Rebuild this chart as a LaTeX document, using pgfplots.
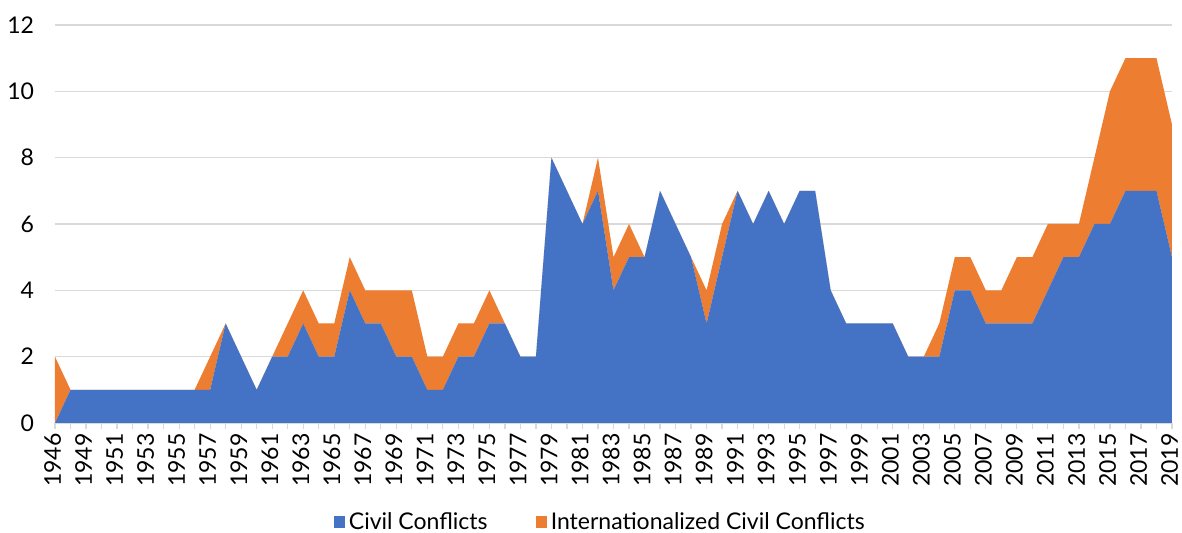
\documentclass[border=0pt]{standalone}
\usepackage{pgfplots}
\pgfplotsset{compat=1.18}
\usepackage{pgfplotstable}
\usepackage{fontspec}
\setmainfont{Lato}
\definecolor{cblue}{HTML}{4472C4}
\definecolor{corange}{HTML}{ED7D31}
\definecolor{cgrid}{HTML}{D9D9D9}
\pgfplotstableread{
x civil intl
0 0 2
1 1 0
2 1 0
3 1 0
4 1 0
5 1 0
6 1 0
7 1 0
8 1 0
9 1 0
10 1 1
11 3 0
12 2 0
13 1 0
14 2 0
15 2 1
16 3 1
17 2 1
18 2 1
19 4 1
20 3 1
21 3 1
22 2 2
23 2 2
24 1 1
25 1 1
26 2 1
27 2 1
28 3 1
29 3 0
30 2 0
31 2 0
32 8 0
33 7 0
34 6 0
35 7 1
36 4 1
37 5 1
38 5 0
39 7 0
40 6 0
41 5 0
42 3 1
43 5 1
44 7 0
45 6 0
46 7 0
47 6 0
48 7 0
49 7 0
50 4 0
51 3 0
52 3 0
53 3 0
54 3 0
55 2 0
56 2 0
57 2 1
58 4 1
59 4 1
60 3 1
61 3 1
62 3 2
63 3 2
64 4 2
65 5 1
66 5 1
67 6 2
68 6 4
69 7 4
70 7 4
71 7 4
72 5 4
}\datatable
\begin{document}
\begin{tikzpicture}
\useasboundingbox (-27.5pt,-55pt) rectangle (563.5pt,211.5pt);
\begin{axis}[
  at={(0,0)}, anchor=south west,
  scale only axis,
  width=558.5pt, height=199pt,
  xmin=0, xmax=72, ymin=0, ymax=12,
  stack plots=y,
  axis x line*=bottom,
  axis y line*=left,
  y axis line style={draw=none},
  x axis line style={draw=cgrid, line width=0.75pt},
  ytick={0,2,...,12},
  ymajorgrids,
  grid style={draw=cgrid, line width=0.75pt},
  ytick style={draw=none},
  xtick={0,1,...,72},
  xticklabels={1946,,1949,,1951,,1953,,1955,,1957,,1959,,1961,,1963,,1965,,1967,,1969,,1971,,1973,,1975,,1977,,1979,,1981,,1983,,1985,,1987,,1989,,1991,,1993,,1995,,1997,,1999,,2001,,2003,,2005,,2007,,2009,,2011,,2013,,2015,,2017,,2019},
  xtick style={draw=cgrid, line width=0.6pt},
  tick align=outside,
  major tick length=3pt,
  x tick label style={rotate=90, anchor=east, font=\fontsize{11.5}{13}\selectfont, inner sep=1pt, yshift=1.2pt},
  xticklabel shift=1pt,
  y tick label style={font=\fontsize{11.5}{13}\selectfont},
  yticklabel shift=4pt,
  /pgf/number format/assume math mode=true,
  legend columns=2,
  legend style={at={(0.489,-0.249)}, anchor=center, draw=none, fill=none,
    font=\fontsize{11.5}{13}\selectfont,
    /tikz/every even column/.append style={column sep=22pt}},
  legend image code/.code={\fill[#1] (0pt,-2.8pt) rectangle (5.6pt,2.8pt);},
]
\addplot[fill=cblue, draw=none] table[x=x, y=civil] {\datatable} \closedcycle;
\addlegendentry{Civil Conflicts}
\addplot[fill=corange, draw=none] table[x=x, y=intl] {\datatable} \closedcycle;
\addlegendentry{Internationalized Civil Conflicts}
\end{axis}
\end{tikzpicture}
\end{document}
